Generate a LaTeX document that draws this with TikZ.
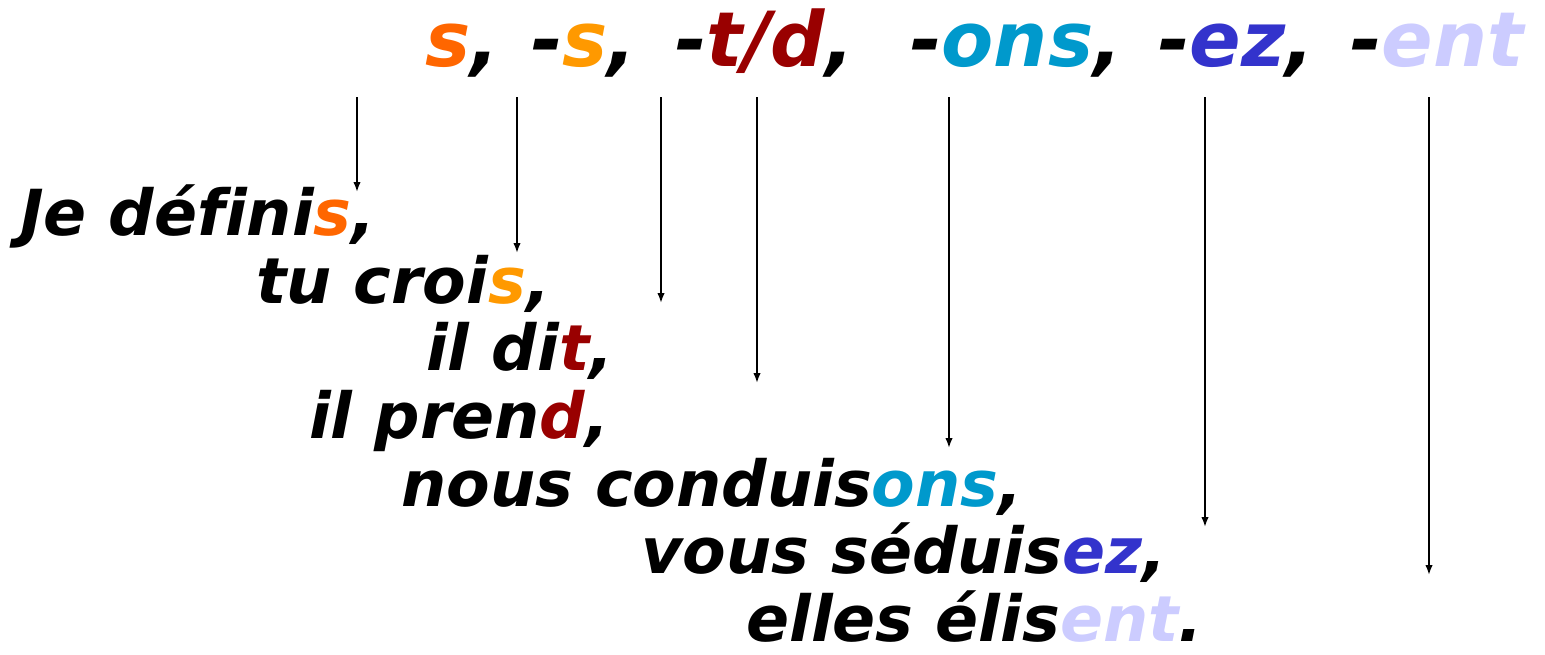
\documentclass[tikz,border=0pt]{standalone}
\usepackage{fontspec}
\setmainfont[Ligatures=NoCommon]{DejaVu Sans}
\usetikzlibrary{arrows.meta}
\definecolor{sfxS}{HTML}{FF6600}
\definecolor{sfxSS}{HTML}{FF9900}
\definecolor{sfxTD}{HTML}{990000}
\definecolor{sfxONS}{HTML}{0099CC}
\definecolor{sfxEZ}{HTML}{3333CC}
\definecolor{sfxENT}{HTML}{CCCCFF}
\newcommand{\sfx}[2]{\textcolor{#1}{#2}}

\begin{document}
\begin{tikzpicture}[x=1pt,y=-1pt,
  verb/.style={anchor=base west,inner sep=0pt,
    font=\bfseries\itshape\fontsize{63.5}{63.5}\selectfont},
  head/.style={anchor=base west,inner sep=0pt,
    font=\bfseries\itshape\fontsize{76}{76}\selectfont},
  link/.style={-{Latex[length=10pt,width=7.5pt]},line width=1.8pt}]
  \useasboundingbox (0,0) rectangle (1545,654);
  % endings
  \node[head] (h1) at (425,66)  {\sfx{sfxS}{s},};
  \node[head] (h2) at (531,66)  {-\sfx{sfxSS}{s},};
  \node[head] (h3) at (675,66)  {-\sfx{sfxTD}{t/d},};
  \node[head] (h4) at (910,66)  {-\sfx{sfxONS}{ons},};
  \node[head] (h5) at (1158,66) {-\sfx{sfxEZ}{ez},};
  \node[head] (h6) at (1350,66) {-\sfx{sfxENT}{ent}};
  % verb forms
  \node[verb] (v1) at (20,235)  {Je défini\sfx{sfxS}{s},};
  \node[verb] (v2) at (256,303) {tu croi\sfx{sfxSS}{s},};
  \node[verb] (v3) at (426,370) {il di\sfx{sfxTD}{t},};
  \node[verb] (v4) at (309,438) {il pren\sfx{sfxTD}{d},};
  \node[verb] (v5) at (401,506) {nous conduis\sfx{sfxONS}{ons},};
  \node[verb] (v6) at (641,573) {vous séduis\sfx{sfxEZ}{ez},};
  \node[verb] (v7) at (746,641) {elles élis\sfx{sfxENT}{ent}.};
  % arrows
  \foreach \i/\x/\y in {1/357/192,2/517/253,3/661/303,4/757/383,5/949/448,6/1205/527,7/1429/575} {
    \coordinate (t\i) at (\x,97);
    \coordinate (e\i) at (\x,\y);
    \draw[link] (t\i) -- (e\i);
  }
\end{tikzpicture}
\end{document}
